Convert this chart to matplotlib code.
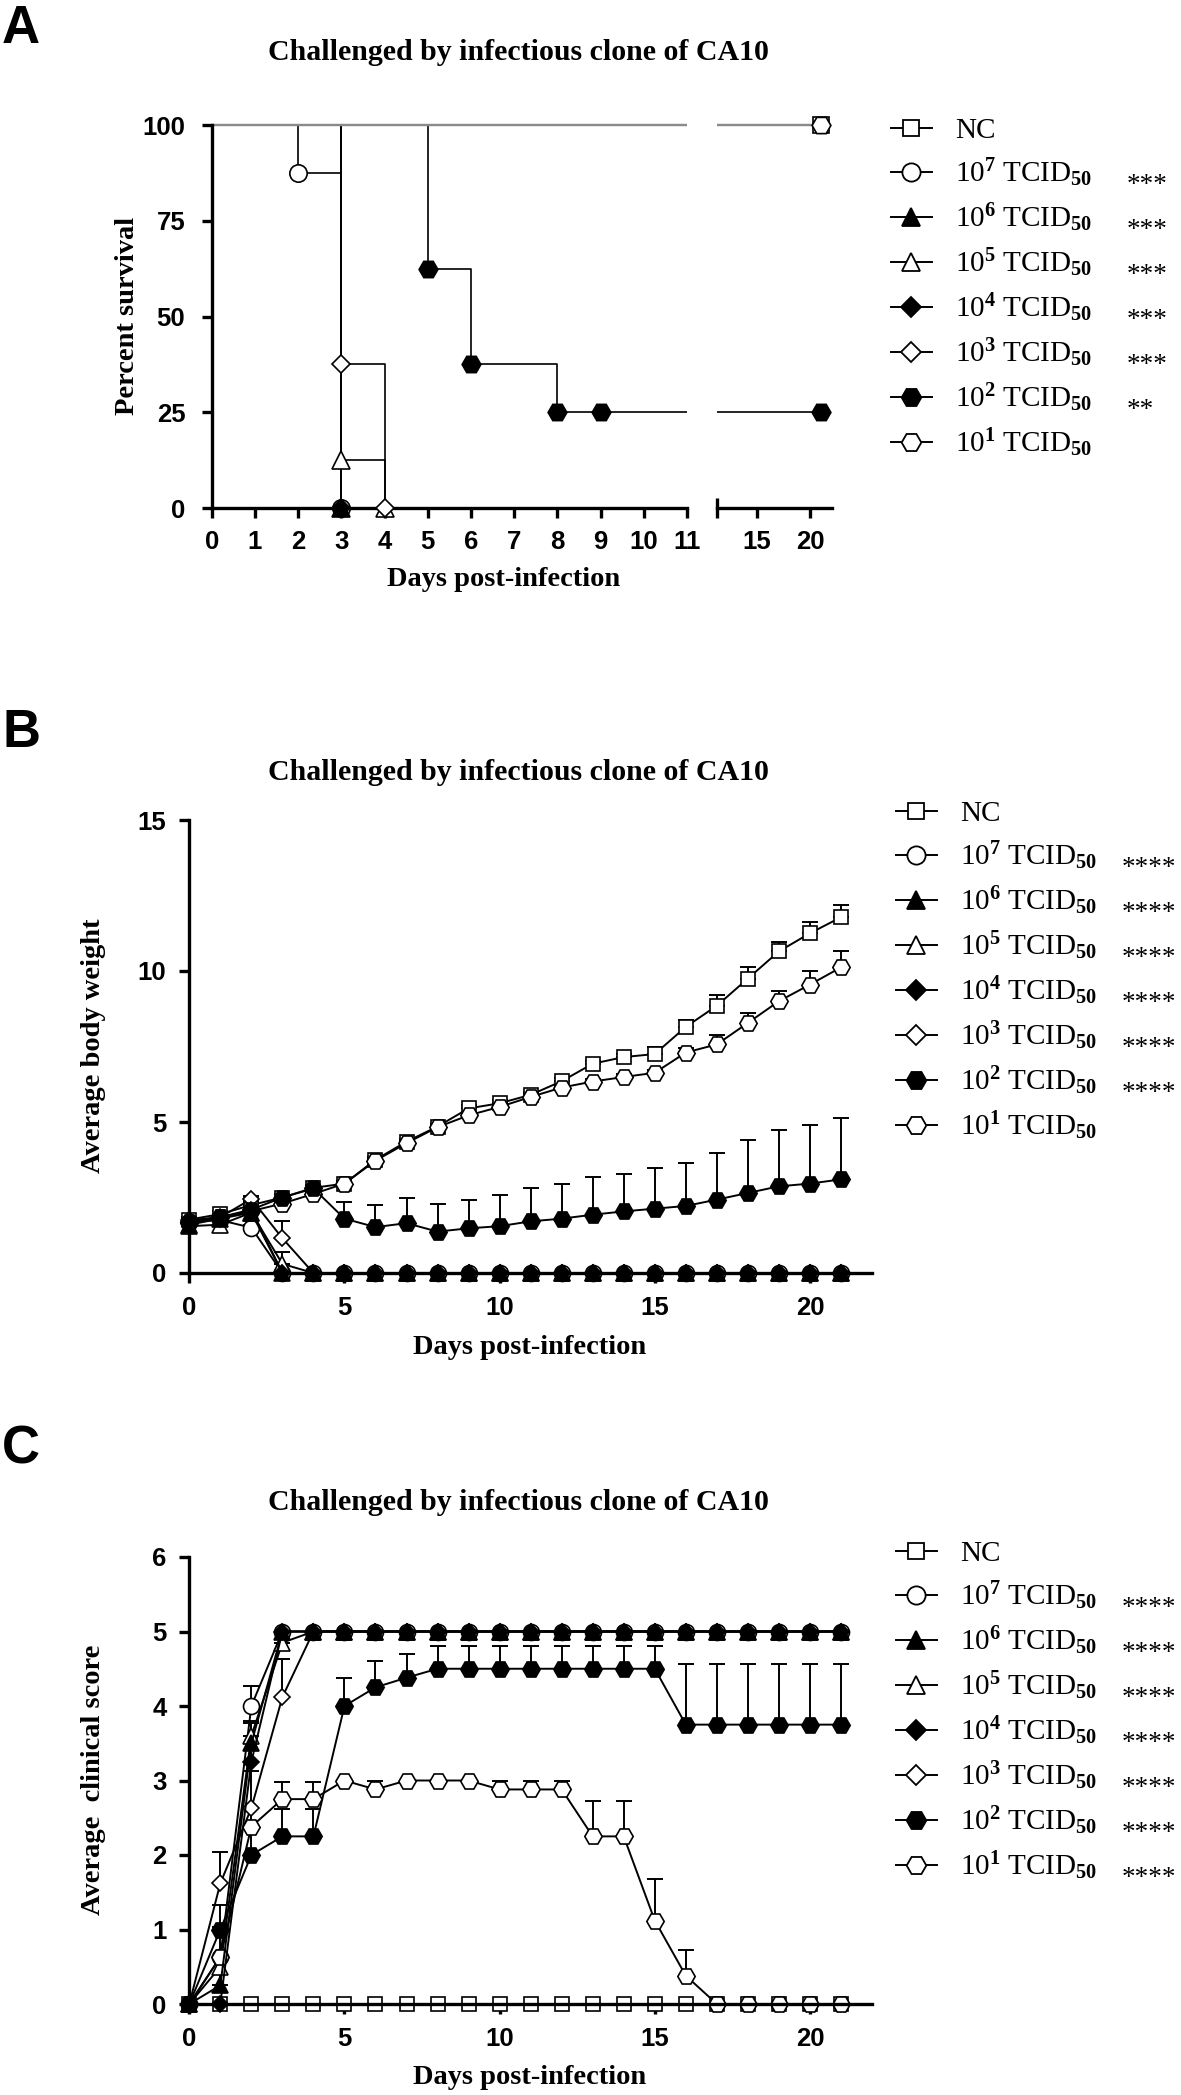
import numpy as np
import matplotlib.pyplot as plt
from matplotlib.lines import Line2D

plt.rcParams['font.family'] = ['Liberation Sans', 'DejaVu Sans']
plt.rcParams['font.weight'] = 'bold'
plt.rcParams['mathtext.fontset'] = 'custom'
plt.rcParams['mathtext.rm'] = 'Liberation Serif'
plt.rcParams['mathtext.it'] = 'Liberation Serif:italic'
plt.rcParams['mathtext.bf'] = 'Liberation Serif:bold'

W, H = 1181, 2095
SERIF = 'Liberation Serif'

# ---- legend / style info ----
group_names = ["NC", "10^7", "10^6", "10^5", "10^4", "10^3", "10^2", "10^1"]
doses = [None, 7, 6, 5, 4, 3, 2, 1]
stars_a = [0, 3, 3, 3, 3, 3, 2, 0]
stars_b = [0, 4, 4, 4, 4, 4, 4, 0]
stars_c = [0, 4, 4, 4, 4, 4, 4, 4]

markers = ['s', 'o', '^', '^', 'D', 'D', 'H', 'H']
faces = ['white', 'white', 'black', 'white', 'black', 'white', 'black', 'white']
msizes = [11.5, 12.5, 12.5, 12.5, 9.5, 9.5, 13.5, 13.5]
layer = [2.0, 2.1, 2.6, 2.2, 2.7, 2.3, 2.8, 2.4]   # filled markers drawn on top

# ---- panel A: survival (Kaplan-Meier steps) ----
nc_days, nc_surv = [0, 21], [100, 100]
e7_days, e7_surv = [0, 2, 3], [100, 87.5, 0]
e6_days, e6_surv = [0, 3], [100, 0]
e5_days, e5_surv = [0, 3, 4], [100, 12.5, 0]
e4_days, e4_surv = [0, 3], [100, 0]
e3_days, e3_surv = [0, 3, 4], [100, 37.5, 0]
e2_days, e2_surv = [0, 5, 6, 8, 9, 21], [100, 62.5, 37.5, 25, 25, 25]
e1_days, e1_surv = [0, 21], [100, 100]

# ---- panels B and C: daily means with upper SEM ----
days = [0, 1, 2, 3, 4, 5, 6, 7, 8, 9, 10, 11, 12, 13, 14, 15, 16, 17, 18, 19, 20, 21]

nc_bw = [1.77, 1.95, 2.25, 2.5, 2.82, 2.96, 3.75, 4.35, 4.85, 5.45, 5.62, 5.9, 6.35, 6.93, 7.15, 7.25, 8.15, 8.85, 9.75, 10.65, 11.25, 11.78]
nc_bw_err = [0.1, 0.1, 0.1, 0.1, 0.1, 0.1, 0.1, 0.1, 0.1, 0.1, 0.1, 0.1, 0.1, 0.1, 0.1, 0.25, 0.22, 0.35, 0.37, 0.32, 0.36, 0.42]
e7_bw = [1.7, 1.75, 1.5, 0, 0, 0, 0, 0, 0, 0, 0, 0, 0, 0, 0, 0, 0, 0, 0, 0, 0, 0]
e7_bw_err = [0.1, 0.1, 0.1, 0, 0, 0, 0, 0, 0, 0, 0, 0, 0, 0, 0, 0, 0, 0, 0, 0, 0, 0]
e6_bw = [1.6, 1.8, 2.0, 0, 0, 0, 0, 0, 0, 0, 0, 0, 0, 0, 0, 0, 0, 0, 0, 0, 0, 0]
e6_bw_err = [0.1, 0.1, 0.1, 0, 0, 0, 0, 0, 0, 0, 0, 0, 0, 0, 0, 0, 0, 0, 0, 0, 0, 0]
e5_bw = [1.55, 1.6, 2.0, 0.3, 0, 0, 0, 0, 0, 0, 0, 0, 0, 0, 0, 0, 0, 0, 0, 0, 0, 0]
e5_bw_err = [0.1, 0.1, 0.1, 0.4, 0, 0, 0, 0, 0, 0, 0, 0, 0, 0, 0, 0, 0, 0, 0, 0, 0, 0]
e4_bw = [1.7, 1.8, 2.1, 0, 0, 0, 0, 0, 0, 0, 0, 0, 0, 0, 0, 0, 0, 0, 0, 0, 0, 0]
e4_bw_err = [0.1, 0.1, 0.1, 0, 0, 0, 0, 0, 0, 0, 0, 0, 0, 0, 0, 0, 0, 0, 0, 0, 0, 0]
e3_bw = [1.75, 1.85, 2.45, 1.15, 0, 0, 0, 0, 0, 0, 0, 0, 0, 0, 0, 0, 0, 0, 0, 0, 0, 0]
e3_bw_err = [0.1, 0.1, 0.1, 0.58, 0, 0, 0, 0, 0, 0, 0, 0, 0, 0, 0, 0, 0, 0, 0, 0, 0, 0]
e2_bw = [1.65, 1.85, 2.1, 2.5, 2.8, 1.8, 1.52, 1.65, 1.37, 1.48, 1.55, 1.71, 1.8, 1.93, 2.04, 2.13, 2.22, 2.43, 2.65, 2.87, 2.96, 3.1]
e2_bw_err = [0.1, 0.1, 0.15, 0.1, 0.1, 0.55, 0.73, 0.82, 0.92, 0.95, 1.04, 1.1, 1.16, 1.26, 1.25, 1.35, 1.41, 1.54, 1.74, 1.86, 1.93, 2.02]
e1_bw = [1.7, 1.85, 2.05, 2.3, 2.62, 2.96, 3.72, 4.3, 4.83, 5.22, 5.5, 5.83, 6.14, 6.34, 6.49, 6.63, 7.3, 7.57, 8.28, 9.0, 9.55, 10.12]
e1_bw_err = [0.1, 0.1, 0.1, 0.1, 0.1, 0.1, 0.1, 0.1, 0.1, 0.1, 0.1, 0.1, 0.1, 0.1, 0.1, 0.1, 0.15, 0.3, 0.34, 0.34, 0.44, 0.55]

nc_cs = [0, 0, 0, 0, 0, 0, 0, 0, 0, 0, 0, 0, 0, 0, 0, 0, 0, 0, 0, 0, 0, 0]
nc_cs_err = [0, 0, 0, 0, 0, 0, 0, 0, 0, 0, 0, 0, 0, 0, 0, 0, 0, 0, 0, 0, 0, 0]
e7_cs = [0, 0.63, 4.0, 5, 5, 5, 5, 5, 5, 5, 5, 5, 5, 5, 5, 5, 5, 5, 5, 5, 5, 5]
e7_cs_err = [0, 0, 0.27, 0, 0, 0, 0, 0, 0, 0, 0, 0, 0, 0, 0, 0, 0, 0, 0, 0, 0, 0]
e6_cs = [0, 0.25, 3.5, 5, 5, 5, 5, 5, 5, 5, 5, 5, 5, 5, 5, 5, 5, 5, 5, 5, 5, 5]
e6_cs_err = [0, 0.15, 0.27, 0, 0, 0, 0, 0, 0, 0, 0, 0, 0, 0, 0, 0, 0, 0, 0, 0, 0, 0]
e5_cs = [0, 0.5, 3.6, 4.85, 5, 5, 5, 5, 5, 5, 5, 5, 5, 5, 5, 5, 5, 5, 5, 5, 5, 5]
e5_cs_err = [0, 0, 0.2, 0.15, 0, 0, 0, 0, 0, 0, 0, 0, 0, 0, 0, 0, 0, 0, 0, 0, 0, 0]
e4_cs = [0, 0, 3.25, 5, 5, 5, 5, 5, 5, 5, 5, 5, 5, 5, 5, 5, 5, 5, 5, 5, 5, 5]
e4_cs_err = [0, 0, 0.25, 0, 0, 0, 0, 0, 0, 0, 0, 0, 0, 0, 0, 0, 0, 0, 0, 0, 0, 0]
e3_cs = [0, 1.62, 2.63, 4.12, 5, 5, 5, 5, 5, 5, 5, 5, 5, 5, 5, 5, 5, 5, 5, 5, 5, 5]
e3_cs_err = [0, 0.42, 0.5, 0.51, 0, 0, 0, 0, 0, 0, 0, 0, 0, 0, 0, 0, 0, 0, 0, 0, 0, 0]
e2_cs = [0, 1.0, 2.0, 2.25, 2.25, 4.0, 4.25, 4.38, 4.5, 4.5, 4.5, 4.5, 4.5, 4.5, 4.5, 4.5, 3.75, 3.75, 3.75, 3.75, 3.75, 3.75]
e2_cs_err = [0, 0.33, 0.38, 0.37, 0.37, 0.37, 0.35, 0.32, 0.3, 0.3, 0.3, 0.3, 0.3, 0.3, 0.3, 0.3, 0.82, 0.82, 0.82, 0.82, 0.82, 0.82]
e1_cs = [0, 0.63, 2.38, 2.75, 2.75, 3.0, 2.88, 3.0, 3.0, 3.0, 2.88, 2.88, 2.88, 2.25, 2.25, 1.12, 0.38, 0, 0, 0, 0, 0]
e1_cs_err = [0, 0.4, 0.25, 0.23, 0.23, 0, 0.12, 0, 0, 0, 0.12, 0.12, 0.12, 0.48, 0.48, 0.56, 0.35, 0, 0, 0, 0, 0]

surv_days = [nc_days, e7_days, e6_days, e5_days, e4_days, e3_days, e2_days, e1_days]
surv_pct = [nc_surv, e7_surv, e6_surv, e5_surv, e4_surv, e3_surv, e2_surv, e1_surv]
bw_vals = [nc_bw, e7_bw, e6_bw, e5_bw, e4_bw, e3_bw, e2_bw, e1_bw]
bw_errs = [nc_bw_err, e7_bw_err, e6_bw_err, e5_bw_err, e4_bw_err, e3_bw_err, e2_bw_err, e1_bw_err]
cs_vals = [nc_cs, e7_cs, e6_cs, e5_cs, e4_cs, e3_cs, e2_cs, e1_cs]
cs_errs = [nc_cs_err, e7_cs_err, e6_cs_err, e5_cs_err, e4_cs_err, e3_cs_err, e2_cs_err, e1_cs_err]

TITLE = "Challenged by infectious clone of CA10"
LW = 1.4
SPW = 2.4
TICKFS = 18.5


def box(l, t, r, b):
    return [l / W, 1 - b / H, (r - l) / W, (b - t) / H]


def make_label(dose):
    if dose is None:
        return "NC"
    return rf"10$^{{{dose}}}$ TCID$_{{50}}$"


def style(ax, pad):
    ax.spines['top'].set_visible(False)
    ax.spines['right'].set_visible(False)
    ax.spines['left'].set_linewidth(SPW)
    ax.spines['bottom'].set_linewidth(SPW)
    ax.tick_params(direction='out', length=7, width=SPW, pad=pad, labelsize=TICKFS)


def add_legend(ax, stars, x, y, star_x):
    handles = []
    for i in range(len(group_names)):
        handles.append(Line2D([], [], color='black', lw=LW, marker=markers[i],
                              mfc=faces[i], mec='black', mew=1.3, ms=msizes[i]))
    labels = [make_label(d) for d in doses]
    leg = ax.legend(handles, labels, loc='upper left', bbox_to_anchor=(x / W, 1 - y / H),
                    bbox_transform=fig.transFigure, frameon=False,
                    prop={'family': SERIF, 'weight': 'normal', 'size': 21},
                    handlelength=1.4, handletextpad=0.8, labelspacing=0.42,
                    borderpad=0, borderaxespad=0, markerscale=1.05)
    # significance stars, one per legend row, lined up in a column
    fig.canvas.draw()
    rend = fig.canvas.get_renderer()
    for h, n in zip(leg.legend_handles, stars):
        if n == 0:
            continue
        bb = h.get_window_extent(rend)
        yc = (bb.y0 + bb.y1) / 2 - 7 - 13
        fig.text(star_x / W, yc / H, "*" * n, family=SERIF, weight='normal',
                 size=19.5, ha='left', va='baseline')


fig = plt.figure(figsize=(W / 100, H / 100), dpi=100)

# ================= Panel A =================
axA1 = fig.add_axes(box(211.7, 121.2, 687, 508))
axA2 = fig.add_axes(box(716.7, 121.2, 831.7, 508))
segs = [(axA1, 0, 11), (axA2, 11.2, 22)]
for i in range(len(group_names)):
    t = np.array(surv_days[i], dtype=float)
    s = np.array(surv_pct[i], dtype=float)
    gray = i in (0, 7)
    for ax, lo, hi in segs:
        ax.step(t, s, where='post', color='#8a8a8a' if gray else 'black',
                lw=1.6 if gray else 1.2, zorder=1.9 if gray else 1.8)
        m = (t > 0) & (t >= lo) & (t <= hi)
        ax.plot(t[m], s[m], ls='none', marker=markers[i], mfc=faces[i], mec='black',
                mew=1.2, ms=msizes[i], clip_on=False, zorder=layer[i] + 1)

for ax, lo, hi in segs:
    style(ax, 8.5)
    ax.set_xlim(lo, hi)
    ax.set_ylim(0, 101)
    ax.spines['left'].set_bounds(0, 100)
axA1.set_xticks([0, 1, 2, 3, 4, 5, 6, 7, 8, 9, 10, 11])
axA1.set_yticks([0, 25, 50, 75, 100])
axA1.tick_params(axis='y', pad=12)
axA1.set_xticks([11], minor=True)
axA2.spines['left'].set_visible(False)
axA2.set_yticks([])
axA2.set_xticks([15, 20])
axA2.set_xticks([11.2], minor=True)
for ax in (axA1, axA2):
    ax.tick_params(axis='x', which='minor', direction='inout', length=14, width=SPW)

# ================= Panels B and C =================
axB = fig.add_axes(box(189.3, 820, 872, 1273))
axC = fig.add_axes(box(189.3, 1557, 872, 2004))
x = np.array(days, dtype=float)
for ax, vals, errs in ((axB, bw_vals, bw_errs), (axC, cs_vals, cs_errs)):
    for i in range(len(group_names)):
        y = np.array(vals[i], dtype=float)
        e = np.array(errs[i], dtype=float)
        m = e > 0
        if m.any():
            ax.errorbar(x[m], y[m], yerr=[np.zeros(m.sum()), e[m]], fmt='none',
                        ecolor='black', elinewidth=LW, capsize=5.5, capthick=LW,
                        clip_on=False, zorder=1.5)
        ax.plot(x, y, color='black', lw=LW, marker=markers[i], mfc=faces[i],
                mec='black', mew=1.2, ms=msizes[i] - 1, clip_on=False, zorder=layer[i])
    style(ax, 9.5)
    ax.set_xlim(0, 22)
    ax.set_xticks([0, 5, 10, 15, 20])

axB.set_ylim(0, 15)
axB.set_yticks([0, 5, 10, 15])
axC.set_ylim(0, 6)
axC.set_yticks([0, 1, 2, 3, 4, 5, 6])

# ================= texts =================
tkw = dict(family=SERIF, weight='bold', size=21.5, ha='center', va='center')
fig.text(518 / W, 1 - 53 / H, TITLE, **tkw)
fig.text(518 / W, 1 - 772 / H, TITLE, **tkw)
fig.text(518 / W, 1 - 1502 / H, TITLE, **tkw)
lab = dict(tkw, size=20.5)
fig.text(127 / W, 1 - 316 / H, "Percent survival", rotation=90, **lab)
fig.text(504 / W, 1 - 580 / H, "Days post-infection", **lab)
fig.text(93.5 / W, 1 - 1046 / H, "Average body weight", rotation=90, **lab)
fig.text(530 / W, 1 - 1347 / H, "Days post-infection", **lab)
fig.text(93.5 / W, 1 - 1780 / H, "Average  clinical score", rotation=90, **lab)
fig.text(530 / W, 1 - 2077 / H, "Days post-infection", **lab)

lkw = dict(family='Liberation Sans', weight='bold', size=38, ha='left', va='top')
fig.text(2 / W, 1 - 4 / H, "A", **lkw)
fig.text(2 / W, 1 - 708 / H, "B", **lkw)
fig.text(2 / W, 1 - 1424 / H, "C", **lkw)

add_legend(axA1, stars_a, 891, 118, 1127)
add_legend(axB, stars_b, 896, 801, 1122)
add_legend(axC, stars_c, 896, 1541, 1122)

fig.savefig("out.png", dpi=100)
